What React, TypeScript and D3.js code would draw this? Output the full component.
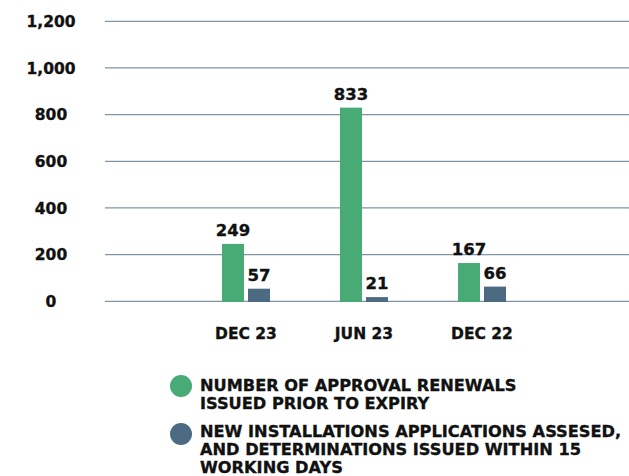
import React from "react";
import * as d3 from "d3";

const categories = ["DEC 23", "JUN 23", "DEC 22"];
const renewals = [249, 833, 167];
const newInstallations = [57, 21, 66];
const yTicks = [0, 200, 400, 600, 800, 1000, 1200];
const seriesNames = [
  ["NUMBER OF APPROVAL RENEWALS", "ISSUED PRIOR TO EXPIRY"],
  ["NEW INSTALLATIONS APPLICATIONS ASSESED,", "AND DETERMINATIONS ISSUED WITHIN 15", "WORKING DAYS"],
];
const colors = ["#48AA74", "#4C6A82"];

const W = 629;
const H = 476;
const FONT = "'DejaVu Sans', sans-serif";
const TXT = { fontFamily: FONT, fontWeight: 700, fill: "#111", stroke: "#111", strokeWidth: 0.35 } as const;

export default function App() {
  const y = d3.scaleLinear().domain([0, 1200]).range([302, 22]);
  const x = d3.scaleBand<string>().domain(categories).range([187, 541]);
  const barW = 22;
  const gap = 4;
  const series = [renewals, newInstallations];
  const fmt = d3.format(",");

  return (
    <svg width={W} height={H} style={{ position: "absolute", left: 0, top: 0, background: "#fff" }}>
      <g>
        {yTicks.map((t) => (
          <g key={t}>
            <line x1={105} x2={W} y1={y(t) - 0.7} y2={y(t) - 0.7} stroke="#7F95A6" strokeWidth={1.3} />
            <text x={51} y={y(t) + 5} textAnchor="middle" fontSize={15.5} {...TXT}>
              {fmt(t)}
            </text>
          </g>
        ))}
      </g>
      {categories.map((c, i) => {
        const cx = x(c)! + x.bandwidth() / 2;
        return (
          <g key={c}>
            {series.map((s, j) => {
              const bx = j === 0 ? cx - gap / 2 - barW : cx + gap / 2;
              return (
                <g key={j}>
                  <rect x={bx} y={y(s[i])} width={barW} height={y(0) - y(s[i])} fill={colors[j]} />
                  <text x={bx + barW / 2} y={y(s[i]) - 8} textAnchor="middle" fontSize={16.5} {...TXT}>
                    {s[i]}
                  </text>
                </g>
              );
            })}
            <text x={cx} y={339} textAnchor="middle" fontSize={15.5} {...TXT}>
              {c}
            </text>
          </g>
        );
      })}
      {seriesNames.map((lines, j) => {
        const base = j === 0 ? 390.5 : 437;
        return (
          <g key={j}>
            <circle cx={181} cy={j === 0 ? 386 : 434} r={11} fill={colors[j]} />
            {lines.map((l, k) => (
              <text key={k} x={200} y={base + k * 18} fontSize={16.2} {...TXT}>
                {l}
              </text>
            ))}
          </g>
        );
      })}
    </svg>
  );
}
